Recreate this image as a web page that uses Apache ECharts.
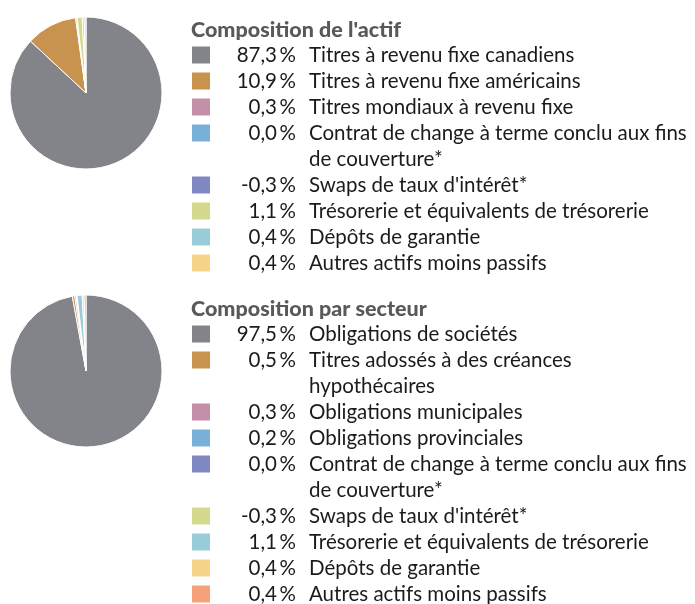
<!DOCTYPE html>
<html>
<head>
<meta charset="utf-8">
<script src="https://cdn.jsdelivr.net/npm/echarts@6/dist/echarts.min.js"></script>
<style>
  html, body { margin: 0; padding: 0; background: #fff; }
  #chart { width: 695px; height: 604px; }
</style>
</head>
<body>
<div id="chart"></div>
<script>
// ---- data ----
const assetTitle = "Composition de l'actif";
const assetLabels = [
  "Titres à revenu fixe canadiens",
  "Titres à revenu fixe américains",
  "Titres mondiaux à revenu fixe",
  "Contrat de change à terme conclu aux fins\nde couverture*",
  "Swaps de taux d'intérêt*",
  "Trésorerie et équivalents de trésorerie",
  "Dépôts de garantie",
  "Autres actifs moins passifs"
];
const assetValues = [87.3, 10.9, 0.3, 0.0, -0.3, 1.1, 0.4, 0.4];

const sectorTitle = "Composition par secteur";
const sectorLabels = [
  "Obligations de sociétés",
  "Titres adossés à des créances\nhypothécaires",
  "Obligations municipales",
  "Obligations provinciales",
  "Contrat de change à terme conclu aux fins\nde couverture*",
  "Swaps de taux d'intérêt*",
  "Trésorerie et équivalents de trésorerie",
  "Dépôts de garantie",
  "Autres actifs moins passifs"
];
const sectorValues = [97.5, 0.5, 0.3, 0.2, 0.0, -0.3, 1.1, 0.4, 0.4];

const palette = [
  "#838489", "#c8924f", "#c48fa9", "#79b0d9", "#8088c4",
  "#d4d98d", "#99ccd9", "#f8d38c", "#f5a27b"
];

// ---- helpers ----
const FONT = "Lato, 'Open Sans', sans-serif";

function fmt(v) {
  return v.toFixed(1).replace(".", ",") + "\u2009%";
}

function pieData(labels, values) {
  // negative weights cannot be drawn as slices
  return labels.map((n, i) => ({
    name: n,
    value: Math.max(0, values[i]),
    itemStyle: { color: palette[i] }
  }));
}

function legendBlock(title, labels, values, top) {
  const els = [];
  els.push({
    type: "text", x: 191, y: top,
    style: {
      text: title, fill: "#58595b",
      font: "900 21.5px " + FONT,
      textVerticalAlign: "middle"
    }
  });
  let y = top + 25;
  labels.forEach((name, i) => {
    els.push({
      type: "rect",
      shape: { x: 192, y: y - 8.5, width: 18, height: 17 },
      style: { fill: palette[i] }
    });
    els.push({
      type: "text", x: 296, y: y,
      style: {
        text: fmt(values[i]), fill: "#1c1a1b",
        font: "20.5px " + FONT,
        textAlign: "right", textVerticalAlign: "middle"
      }
    });
    els.push({
      type: "text", x: 309, y: y - 13,
      style: {
        text: name, fill: "#1c1a1b",
        font: "20.5px " + FONT,
        lineHeight: 26,
        textAlign: "left", textVerticalAlign: "top"
      }
    });
    y += 26 * name.split("\n").length;
  });
  return els;
}

// ---- chart ----
const chart = echarts.init(document.getElementById("chart"));

const pieBase = {
  type: "pie",
  radius: 76,
  startAngle: 90,
  clockwise: true,
  label: { show: false },
  labelLine: { show: false },
  emphasis: { disabled: true },
  itemStyle: { borderColor: "#fff", borderWidth: 1 },
  minAngle: 0
};

chart.setOption({
  animation: false,
  series: [
    Object.assign({}, pieBase, {
      center: [86, 93],
      data: pieData(assetLabels, assetValues)
    }),
    Object.assign({}, pieBase, {
      center: [86, 371],
      data: pieData(sectorLabels, sectorValues)
    })
  ],
  graphic: [
    ...legendBlock(assetTitle, assetLabels, assetValues, 30),
    ...legendBlock(sectorTitle, sectorLabels, sectorValues, 309)
  ]
});

window.addEventListener("resize", () => chart.resize());
</script>
</body>
</html>
